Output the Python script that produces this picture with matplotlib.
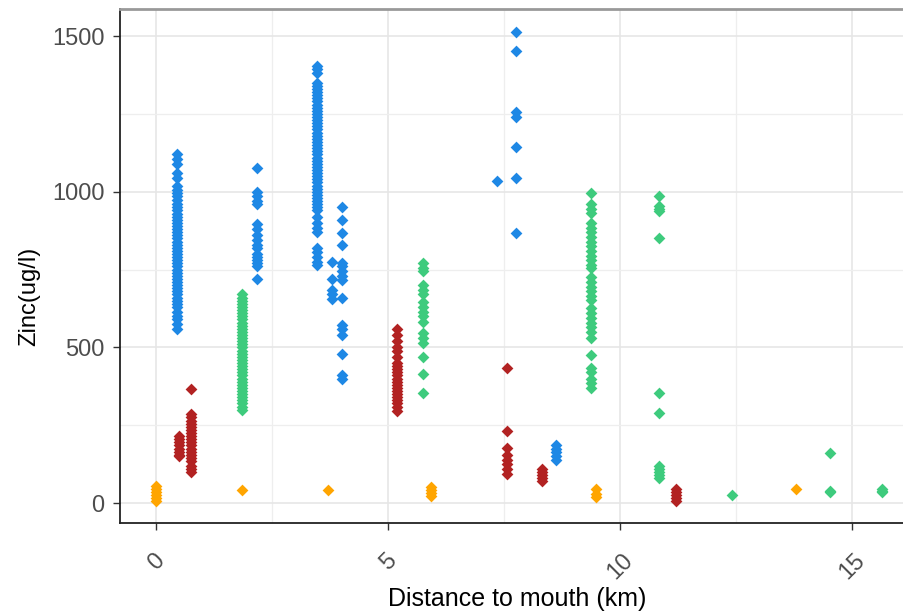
import matplotlib
matplotlib.use('Agg')
import matplotlib.pyplot as plt
from matplotlib.ticker import MultipleLocator

# distance to mouth (km) of each sampling site, and zinc readings (ug/l) there
blue_sites = [0.45, 2.18, 3.47, 3.79, 4.01, 7.35, 7.76, 8.62]
blue_zinc = [
    [1120, 1105, 1090, 1060, 1045, 1020, 1005, 995, 985, 975, 960, 950, 940, 930,
     920, 910, 900, 890, 880, 870, 860, 850, 840, 830, 820, 810, 800, 790, 780,
     770, 760, 750, 740, 730, 720, 710, 700, 690, 680, 670, 660, 650, 640, 630,
     615, 600, 590, 575, 560],
    [1075, 1000, 985, 970, 960, 895, 880, 860, 845, 830, 820, 800, 790, 780,
     770, 760, 720],
    [1405, 1395, 1380, 1350, 1340, 1330, 1320, 1310, 1300, 1290, 1280, 1270,
     1260, 1250, 1240, 1230, 1220, 1210, 1200, 1190, 1180, 1170, 1160, 1150,
     1140, 1130, 1120, 1110, 1100, 1090, 1080, 1070, 1060, 1050, 1040, 1030,
     1020, 1010, 1000, 990, 980, 970, 960, 950, 940, 920, 900, 885, 870, 820,
     805, 790, 775, 765],
    [775, 720, 685, 670, 655],
    [950, 910, 866, 830, 772, 760, 745, 730, 718, 660, 573, 560, 541, 480, 412, 400],
    [1036],
    [1513, 1451, 1255, 1239, 1145, 1045, 868],
    [185, 175, 165, 150, 138],
]

green_sites = [1.85, 5.75, 9.37, 10.84, 12.41, 14.53, 15.65]
green_zinc = [
    [670, 660, 650, 640, 630, 620, 610, 600, 590, 580, 570, 560, 550, 540, 530,
     520, 510, 500, 490, 480, 470, 460, 450, 440, 430, 420, 410, 400, 390, 380,
     370, 360, 350, 340, 330, 320, 310, 300],
    [770, 755, 745, 700, 685, 670, 645, 630, 615, 600, 583, 547, 530, 515, 470,
     415, 354],
    [997, 960, 945, 933, 900, 885, 870, 855, 840, 825, 810, 795, 780, 765, 756,
     727, 710, 695, 680, 665, 653, 628, 610, 595, 580, 565, 550, 531, 476, 434,
     420, 400, 385, 370],
    [985, 953, 945, 937, 853, 354, 290, 120, 110, 100, 90, 80],
    [26],
    [160, 40, 35],
    [45, 40, 35],
]

red_sites = [0.50, 0.75, 5.19, 7.56, 8.32, 11.21]
red_zinc = [
    [215, 205, 195, 185, 175, 165, 155, 150],
    [365, 285, 275, 265, 255, 245, 235, 225, 215, 205, 195, 185, 175, 165, 155,
     145, 135, 120, 110, 100],
    [560, 540, 520, 500, 490, 470, 450, 440, 430, 420, 410, 400, 390, 380, 370,
     360, 350, 340, 330, 320, 310, 295],
    [434, 232, 177, 155, 140, 125, 110, 95],
    [110, 100, 90, 80, 70],
    [45, 35, 25, 15, 8],
]

orange_sites = [0.0, 1.85, 3.71, 5.93, 9.48, 13.79]
orange_zinc = [
    [55, 45, 35, 25, 15, 8],
    [42],
    [42],
    [52, 42, 32, 22],
    [45, 30, 20],
    [45],
]

groups = [
    (orange_sites, orange_zinc, '#FFA500'),
    (red_sites, red_zinc, '#B22222'),
    (green_sites, green_zinc, '#3ECB7D'),
    (blue_sites, blue_zinc, '#1E88E5'),
]

fig = plt.figure(figsize=(9.04, 6.13), dpi=100)
ax = fig.add_axes([0.1327, 0.1468, 0.8673, 0.8385])

for sites, zinc, colour in groups:
    for x, ys in zip(sites, zinc):
        ax.scatter([x] * len(ys), ys, marker='D', s=36, color=colour,
                   linewidths=0, zorder=3)

ax.set_xlim(-0.78, 16.12)
ax.set_ylim(-64, 1587)
ax.xaxis.set_major_locator(MultipleLocator(5))
ax.xaxis.set_minor_locator(MultipleLocator(2.5))
ax.yaxis.set_major_locator(MultipleLocator(500))
ax.yaxis.set_minor_locator(MultipleLocator(250))

ax.grid(True, which='major', color='#E6E6E6', linewidth=1.2, zorder=0)
ax.grid(True, which='minor', color='#EEEEEE', linewidth=0.9, zorder=0)
ax.set_axisbelow(True)

for side in ['left', 'bottom']:
    ax.spines[side].set_color('#222222')
    ax.spines[side].set_linewidth(1.3)
ax.spines['top'].set_color('#999999')
ax.spines['top'].set_linewidth(2)
ax.spines['right'].set_visible(False)

font = 'Liberation Sans'
ax.tick_params(which='major', length=5, width=1, color='#333333',
               labelcolor='#4D4D4D', labelsize=17)
ax.tick_params(which='minor', length=0)
ax.tick_params(axis='y', pad=6)
ax.tick_params(axis='x', pad=14)
for lab in ax.get_xticklabels():
    lab.set_rotation(45)
    lab.set_ha('center')
    lab.set_va('top')
for lab in ax.get_xticklabels() + ax.get_yticklabels():
    lab.set_family(font)

ax.set_xlabel('Distance to mouth (km)', fontsize=18, family=font, color='black')
ax.set_ylabel('Zinc(ug/l)', fontsize=17, family=font, color='black')
ax.xaxis.set_label_coords(0.507, -0.125)
ax.yaxis.set_label_coords(-0.102, 0.44)

fig.savefig('out.png', dpi=100)
